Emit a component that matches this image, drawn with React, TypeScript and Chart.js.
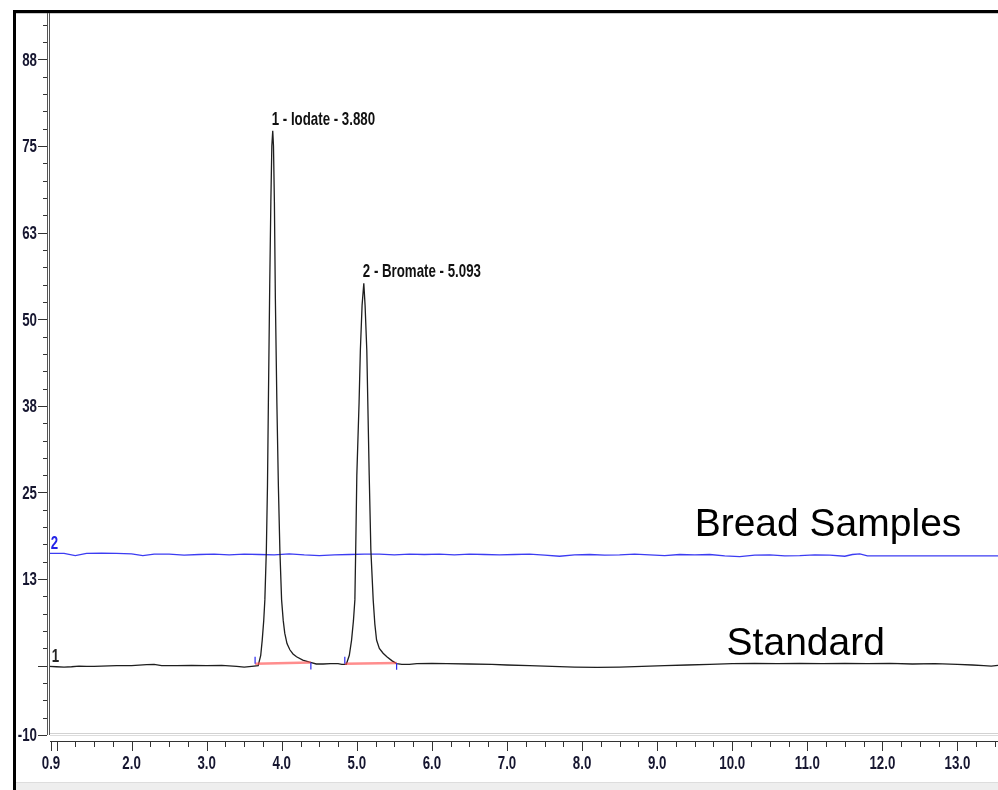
import React, { useEffect, useRef } from 'react';
import { Chart, registerables } from 'chart.js';

Chart.register(...registerables);

// ---------- axis ranges & tick labels ----------
const X_MIN = 0.9;
const X_MAX = 13.54;
const Y_MIN = -10;
const Y_MAX = 94.2;

const X_TICK_VALUES = [0.9, 2, 3, 4, 5, 6, 7, 8, 9, 10, 11, 12, 13];
const X_TICK_LABELS = ['0.9', '2.0', '3.0', '4.0', '5.0', '6.0', '7.0', '8.0', '9.0', '10.0', '11.0', '12.0', '13.0'];
const Y_TICK_VALUES = [-10, 0, 12.5, 25, 37.5, 50, 62.5, 75, 87.5];
const Y_TICK_LABELS = ['-10', '', '13', '25', '38', '50', '63', '75', '88'];

// ---------- trace 1: Standard (baseline portions) ----------
const STD_BASE_T = [0.9, 1.0, 1.1, 1.2, 1.3, 1.4, 1.5, 1.6, 1.8, 2.0, 2.2, 2.3, 2.4, 2.6, 2.8, 3.0, 3.2, 3.4, 3.5, 3.6,
  4.55, 4.65, 4.75,
  5.7, 5.8, 6.0, 6.2, 6.5, 6.8, 7.0, 7.3, 7.6, 7.9, 8.2, 8.5, 8.8, 9.1, 9.4, 9.7, 10.0, 10.3, 10.6, 10.9, 11.2, 11.5, 11.8, 12.1, 12.4, 12.7, 13.0, 13.2, 13.35, 13.45, 13.54];
const STD_BASE_V = [-0.1, -0.15, -0.2, -0.15, -0.05, -0.1, -0.1, -0.05, 0.0, 0.0, 0.15, 0.2, 0.0, 0.0, 0.05, 0.0, 0.05, -0.1, -0.2, -0.1,
  0.25, 0.3, 0.3,
  0.2, 0.3, 0.35, 0.3, 0.25, 0.2, 0.1, 0.0, -0.1, -0.2, -0.25, -0.2, -0.1, 0.0, 0.1, 0.2, 0.3, 0.35, 0.3, 0.35, 0.3, 0.35, 0.3, 0.35, 0.25, 0.3, 0.2, 0.1, 0.0, -0.05, 0.05];

// peak 1 – Iodate
const IODATE_T = [3.686, 3.72, 3.74, 3.76, 3.775, 3.795, 3.81, 3.822, 3.84, 3.855, 3.868, 3.88, 3.89, 3.902, 3.915, 3.935, 3.955, 3.975, 3.998, 4.02, 4.04, 4.07, 4.108, 4.15, 4.197, 4.28, 4.37, 4.46];
const IODATE_V = [0.0, 1.5, 3.7, 6.5, 9.5, 16.7, 26, 38, 55, 67, 75, 77.2, 75, 67, 53, 38, 26, 16.7, 9.5, 6.5, 4.7, 3.2, 2.3, 1.7, 1.3, 0.8, 0.5, 0.25];

// peak 2 – Bromate
const BROMATE_T = [4.80, 4.86, 4.90, 4.93, 4.955, 4.974, 4.985, 5.00, 5.03, 5.047, 5.07, 5.093, 5.11, 5.133, 5.148, 5.165, 5.187, 5.218, 5.24, 5.263, 5.30, 5.35, 5.40, 5.47, 5.53, 5.6];
const BROMATE_V = [0.2, 0.2, 1.5, 3.7, 6.5, 9.5, 16.7, 27.5, 38, 45.5, 52, 55.2, 52, 45.5, 37, 27.5, 16.7, 9.5, 6, 3.7, 2.5, 1.8, 1.3, 0.7, 0.3, 0.2];

// ---------- trace 2: Bread Samples ----------
const SAMPLE_T = [0.9, 1.1, 1.25, 1.4, 1.6, 1.8, 2.0, 2.15, 2.3, 2.5, 2.7, 2.9, 3.1, 3.3, 3.5, 3.7, 3.9, 4.1, 4.3, 4.5, 4.7, 4.9, 5.1, 5.3, 5.5, 5.7, 5.9, 6.1, 6.3, 6.5, 6.7, 6.9, 7.1, 7.3, 7.5, 7.7, 7.9, 8.1, 8.3, 8.5, 8.7, 8.9, 9.1, 9.3, 9.5, 9.7, 9.9, 10.1, 10.3, 10.5, 10.7, 10.9, 11.1, 11.3, 11.5, 11.6, 11.7, 11.8, 12.0, 12.5, 13.0, 13.54];
const SAMPLE_V = [16.2, 16.2, 15.9, 16.2, 16.25, 16.2, 16.15, 15.9, 16.1, 16.1, 15.95, 16.05, 16.1, 16.0, 16.1, 16.05, 16.0, 16.15, 16.0, 15.9, 16.0, 16.05, 16.1, 16.1, 16.0, 16.1, 16.05, 16.1, 16.0, 16.1, 16.05, 16.0, 16.05, 16.1, 15.95, 15.8, 16.0, 16.05, 15.95, 16.0, 16.1, 16.0, 15.9, 16.05, 16.0, 16.05, 15.85, 15.75, 15.95, 16.0, 15.85, 15.9, 16.0, 15.95, 15.8, 16.05, 16.15, 15.85, 15.85, 15.85, 15.85, 15.85];

// ---------- peak annotations & integration ----------
const PEAK_NAMES = ['1 - Iodate - 3.880', '2 - Bromate - 5.093'];
const PEAK_TIMES = [3.880, 5.093];
const PEAK_HEIGHTS = [77.2, 55.2];
const INTEG_START_T = [3.645, 4.84];
const INTEG_START_V = [0.3, 0.3];
const INTEG_END_T = [4.388, 5.53];
const INTEG_END_V = [0.45, 0.4];

const TRACE_NAMES = ['Standard', 'Bread Samples'];
const TRACE_NUMBERS = ['1', '2'];

const ARIAL = "'Liberation Sans', Arial, 'DejaVu Sans', sans-serif";
const SMALL_FONT = `bold 16px ${ARIAL}`;
const SX = 0.83;
const SY = 1.2;

function zip(t: number[], v: number[]) {
  return t.map((x, i) => ({ x, y: v[i] as number | null }));
}

// draw condensed / stretched text anchored at (x, y)
function stretchedText(ctx: CanvasRenderingContext2D, text: string, x: number, y: number, align: CanvasTextAlign, baseline: CanvasTextBaseline) {
  ctx.save();
  ctx.translate(x, y);
  ctx.scale(SX, SY);
  ctx.textAlign = align;
  ctx.textBaseline = baseline;
  ctx.fillText(text, 0, 0);
  ctx.restore();
}

const decorPlugin = {
  id: 'decor',
  beforeDraw(chart: any) {
    const { ctx, width, height } = chart;
    ctx.save();
    ctx.fillStyle = '#ffffff';
    ctx.fillRect(0, 0, width, height);
    ctx.restore();
  },
  afterDatasetsDraw(chart: any) {
    const { ctx } = chart;
    const xs = chart.scales.x;
    const ys = chart.scales.y;
    ctx.save();
    ctx.font = SMALL_FONT;
    // peak labels
    ctx.fillStyle = '#111';
    PEAK_NAMES.forEach((name, i) => {
      const px = xs.getPixelForValue(PEAK_TIMES[i]) - 1;
      const py = ys.getPixelForValue(PEAK_HEIGHTS[i]) - 6;
      stretchedText(ctx, name, px, py, 'left', 'alphabetic');
    });
    // channel numbers
    const numPos = [[0.935, 0.6, '#222'], [0.922, 16.9, '#2424e8']] as const;
    TRACE_NUMBERS.forEach((n, i) => {
      const [tx, ty, col] = numPos[i];
      ctx.fillStyle = col;
      stretchedText(ctx, n, xs.getPixelForValue(tx), ys.getPixelForValue(ty), 'left', 'alphabetic');
    });
    // trace names
    ctx.fillStyle = '#000';
    ctx.font = `39px ${ARIAL}`;
    ctx.textAlign = 'left';
    ctx.textBaseline = 'alphabetic';
    const namePos = [[9.925, 1.54], [9.5, 18.7]];
    TRACE_NAMES.forEach((n, i) => {
      ctx.fillText(n, xs.getPixelForValue(namePos[i][0]), ys.getPixelForValue(namePos[i][1]));
    });
    ctx.restore();
  },
  afterDraw(chart: any) {
    const { ctx, width, height, chartArea } = chart;
    const xs = chart.scales.x;
    const ys = chart.scales.y;
    ctx.save();
    // outer frame
    ctx.fillStyle = '#000';
    ctx.fillRect(13, 10, 3, height - 10);
    ctx.fillRect(13, 10, width - 13, 3);
    ctx.fillStyle = '#c8c8c8';
    ctx.fillRect(16, 13, width - 16, 1);
    // bottom band
    ctx.fillStyle = '#eeeeee';
    ctx.fillRect(16, 782, width - 16, height - 782);
    ctx.fillStyle = '#dddddd';
    ctx.fillRect(16, 782, width - 16, 1);
    // plot bottom lines
    ctx.fillStyle = '#d2d2d2';
    ctx.fillRect(50, chartArea.bottom - 2, width - 50, 1);
    ctx.fillStyle = '#dcdcdc';
    ctx.fillRect(50, chartArea.bottom, width - 50, 1);
    // y axis double line
    ctx.fillStyle = '#555';
    ctx.fillRect(47, chartArea.top, 1, chartArea.bottom - chartArea.top);
    ctx.fillRect(49, chartArea.top, 1, chartArea.bottom - chartArea.top);
    // y ticks
    ctx.fillStyle = '#333';
    const yStep = 2.5;
    for (let k = Math.ceil(Y_MIN / yStep); k * yStep <= Y_MAX; k++) {
      const v = k * yStep;
      const py = Math.round(ys.getPixelForValue(v));
      const major = Y_TICK_VALUES.includes(v);
      const x0 = major ? 38 : 43;
      ctx.fillRect(x0, py, 47 - x0, 1);
    }
    // x ruler
    const rulerY = 741;
    ctx.fillRect(50, rulerY, width - 50, 1);
    const xStep = 0.25;
    const majors = X_TICK_VALUES.slice();
    for (let k = Math.ceil(X_MIN / xStep); k * xStep <= X_MAX; k++) {
      const v = k * xStep;
      if (Number.isInteger(v)) {
        if (!majors.includes(v)) majors.push(v);
        continue;
      }
      const px = Math.round(xs.getPixelForValue(v));
      ctx.fillRect(px, rulerY, 1, 6);
    }
    majors.forEach((v) => {
      const px = Math.max(51, Math.round(xs.getPixelForValue(v)));
      ctx.fillRect(px, rulerY, 1, 10);
    });
    // tick labels (taken from the library's axis ticks)
    ctx.font = SMALL_FONT;
    ctx.fillStyle = '#161630';
    xs.ticks.forEach((t: any, i: number) => {
      const label = (t.label ?? X_TICK_LABELS[i]) as string;
      if (!label) return;
      const px = Math.max(51, xs.getPixelForTick(i));
      stretchedText(ctx, label, px, 764, 'center', 'middle');
    });
    ys.ticks.forEach((t: any, i: number) => {
      const label = (t.label ?? Y_TICK_LABELS[i]) as string;
      if (!label) return;
      stretchedText(ctx, label, 37, ys.getPixelForTick(i) + 1, 'right', 'middle');
    });
    ctx.restore();
  },
};

export default function App() {
  const ref = useRef<HTMLCanvasElement | null>(null);
  useEffect(() => {
    if (!ref.current) return;
    const std = [
      ...zip(STD_BASE_T, STD_BASE_V),
      ...zip(IODATE_T, IODATE_V),
      ...zip(BROMATE_T, BROMATE_V),
    ].sort((a, b) => a.x - b.x);
    const integ: { x: number; y: number | null }[] = [];
    const marks: { x: number; y: number | null }[] = [];
    INTEG_START_T.forEach((t, i) => {
      integ.push({ x: t, y: INTEG_START_V[i] }, { x: INTEG_END_T[i], y: INTEG_END_V[i] }, { x: INTEG_END_T[i] + 0.01, y: null });
      marks.push({ x: t, y: INTEG_START_V[i] }, { x: t, y: INTEG_START_V[i] + 1.0 }, { x: t + 0.001, y: null });
      marks.push({ x: INTEG_END_T[i], y: INTEG_END_V[i] }, { x: INTEG_END_T[i], y: INTEG_END_V[i] - 1.0 }, { x: INTEG_END_T[i] + 0.001, y: null });
    });
    const chart = new Chart(ref.current, {
      type: 'line',
      data: {
        datasets: [
          { label: 'marks', data: marks as any, borderColor: '#2a2af0', borderWidth: 1.2, pointRadius: 0, spanGaps: false },
          { label: 'integration', data: integ as any, borderColor: 'rgba(255,80,80,0.65)', borderWidth: 2.5, pointRadius: 0, spanGaps: false },
          { label: TRACE_NAMES[0], data: std as any, borderColor: '#1e1e1e', borderWidth: 1.3, pointRadius: 0 },
          { label: TRACE_NAMES[1], data: zip(SAMPLE_T, SAMPLE_V) as any, borderColor: '#3c3cf2', borderWidth: 1.3, pointRadius: 0 },
        ],
      },
      options: {
        responsive: false,
        animation: false,
        devicePixelRatio: 1,
        layout: { padding: { left: 0, right: 0, top: 13, bottom: 0 } },
        plugins: { legend: { display: false }, tooltip: { enabled: false } },
        elements: { line: { tension: 0 } },
        scales: {
          x: {
            type: 'linear',
            min: X_MIN,
            max: X_MAX,
            grid: { display: false, drawTicks: false },
            border: { display: false },
            afterBuildTicks: (scale: any) => {
              scale.ticks = X_TICK_VALUES.map((value) => ({ value }));
            },
            afterFit: (scale: any) => {
              scale.height = 55;
            },
            ticks: {
              display: false,
              autoSkip: false,
              maxRotation: 0,
              callback: (_v: any, i: number) => X_TICK_LABELS[i],
            },
          },
          y: {
            type: 'linear',
            min: Y_MIN,
            max: Y_MAX,
            grid: { display: false, drawTicks: false },
            border: { display: false },
            afterBuildTicks: (scale: any) => {
              scale.ticks = Y_TICK_VALUES.map((value) => ({ value }));
            },
            afterFit: (scale: any) => {
              scale.width = 49;
            },
            ticks: {
              display: false,
              autoSkip: false,
              callback: (_v: any, i: number) => Y_TICK_LABELS[i],
            },
          },
        },
      },
      plugins: [decorPlugin],
    } as any);
    return () => chart.destroy();
  }, []);
  return (
    <div style={{ position: 'absolute', left: 0, top: 0, width: 998, height: 790 }}>
      <canvas ref={ref} width={998} height={790} style={{ display: 'block' }} />
    </div>
  );
}
